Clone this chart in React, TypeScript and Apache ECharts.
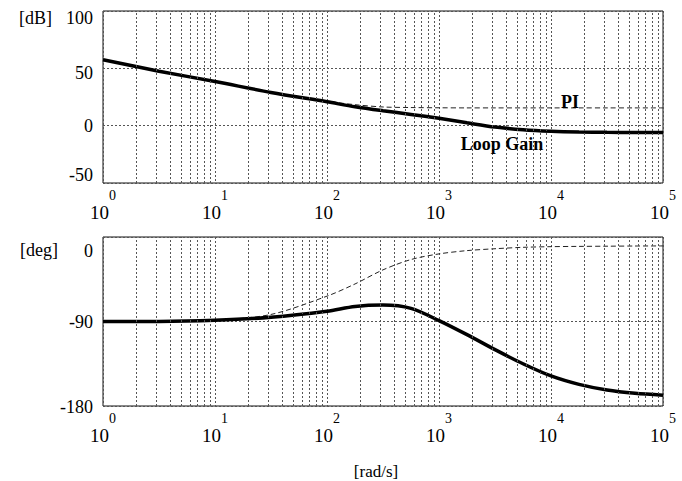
import React, { useEffect, useRef } from "react";
import * as echarts from "echarts";

// Frequency samples [rad/s]
const freq = [1, 3.16, 10, 31.6, 100, 178, 316, 562, 1000, 1778, 3162, 5623, 10000, 17783, 31623, 56234, 100000];
// Magnitude [dB]
const loopGainDb = [57.5, 47.5, 38.5, 29, 20.8, 16.5, 13, 9.8, 6.4, 2.5, -1.2, -3.5, -4.8, -5.5, -5.8, -5.9, -6];
const piDb = [57.5, 47.5, 38.5, 29, 21.3, 18.3, 16.3, 15.8, 15.6, 15.5, 15.5, 15.5, 15.5, 15.5, 15.5, 15.5, 15.5];
// Phase [deg]
const loopGainDeg = [-90, -90, -88.8, -85.5, -79, -74, -72.5, -76, -89, -104, -120, -135, -148, -157, -163, -166.5, -168.5];
const piDeg = [-90, -89.7, -88.5, -82.5, -63, -50, -35, -24, -18, -14.5, -12.5, -11, -10.3, -10, -9.8, -9.6, -9.5];

// Axis ranges / ticks
const freqMin = 1;
const freqMax = 100000;
const decades = [1, 10, 100, 1000, 10000];
const minorSteps = [2, 3, 4, 5, 6, 7, 8, 9];
const magRange = [-50, 100];
const magInterval = 50;
const phaseRange = [-180, 0];
const phaseInterval = 90;

// Annotation texts
const piLabel = { text: "PI", freq: 14800, db: 20.4 };
const loopLabel = { text: "Loop Gain", freq: 3650, db: -15.7 };

const FONT = "Liberation Serif";

const minorGrid: number[] = [];
decades.forEach((d) => minorSteps.forEach((m) => minorGrid.push(d * m)));

const zip = (xs: number[], ys: number[]) => xs.map((x, i) => [x, ys[i]]);

const gridLineStyle = { color: "#555", width: 1, type: [2, 2] as number[] };

const xLabel = {
  color: "#000",
  margin: 5,
  formatter: (v: number) => `{b|10}{s|${Math.round(Math.log10(v))}}`,
  rich: {
    b: { fontFamily: FONT, fontSize: 19, lineHeight: 34, verticalAlign: "bottom", color: "#000" },
    s: { fontFamily: FONT, fontSize: 14, lineHeight: 16, verticalAlign: "top", color: "#000" },
  },
};

const magShift: Record<string, number[]> = {
  "100": [14, 0, 0, 0],
  "50": [10, 0, 0, 0],
  "0": [0, 0, 0, 0],
  "-50": [0, 0, 16, 0],
};
const phaseShift: Record<string, number[]> = {
  "0": [28, 0, 0, 0],
  "-90": [0, 0, 0, 0],
  "-180": [2, 0, 0, 0],
};

const keyOf = (v: number) => "k" + String(v).replace("-", "m");

const yLabel = (shift: Record<string, number[]>) => {
  const rich: Record<string, any> = {};
  Object.keys(shift).forEach((k) => {
    rich[keyOf(Number(k))] = { fontFamily: FONT, fontSize: 18, color: "#000", padding: shift[k] };
  });
  return {
    color: "#000",
    margin: 10,
    fontFamily: FONT,
    fontSize: 18,
    formatter: (v: number) => `{${keyOf(v)}|${v}}`,
    rich,
  };
};

const gridSeries = (idx: number) => ({
  type: "line",
  xAxisIndex: idx,
  yAxisIndex: idx,
  data: [],
  silent: true,
  z: 1,
  markLine: {
    silent: true,
    symbol: "none",
    animation: false,
    label: { show: false },
    lineStyle: gridLineStyle,
    data: minorGrid.map((v) => ({ xAxis: v })),
  },
});

const textMark = (t: { text: string; freq: number; db: number }) => ({
  symbol: "circle",
  symbolSize: 1,
  itemStyle: { color: "rgba(0,0,0,0)" },
  animation: false,
  label: {
    show: true,
    position: "inside",
    formatter: t.text,
    fontFamily: FONT,
    fontWeight: "bold",
    fontSize: 18,
    color: "#000",
  },
  data: [{ coord: [t.freq, t.db] }],
});

export default function App() {
  const ref = useRef<HTMLDivElement>(null);
  useEffect(() => {
    if (!ref.current) return;
    const chart = echarts.init(ref.current, null, { renderer: "svg" });
    const xAxisBase = {
      type: "log",
      logBase: 10,
      min: freqMin,
      max: freqMax,
      axisLine: { show: false },
      axisTick: { show: false },
      splitLine: { show: true, lineStyle: gridLineStyle },
      axisLabel: xLabel,
    };
    chart.setOption({
      animation: false,
      backgroundColor: "#fff",
      grid: [
        { left: 103, top: 11, width: 560, height: 172, show: true, borderColor: "#111", borderWidth: 1, backgroundColor: "transparent" },
        { left: 103, top: 237, width: 560, height: 174, show: true, borderColor: "#111", borderWidth: 1, backgroundColor: "transparent" },
      ],
      xAxis: [
        { ...xAxisBase, gridIndex: 0 },
        {
          ...xAxisBase,
          gridIndex: 1,
          name: "[rad/s]",
          nameLocation: "middle",
          nameGap: 57,
          nameTextStyle: { fontFamily: FONT, fontSize: 17, color: "#000", padding: [0, 14, 0, 0] },
        },
      ],
      yAxis: [
        {
          type: "value",
          gridIndex: 0,
          min: magRange[0],
          max: magRange[1],
          interval: magInterval,
          axisLine: { show: false },
          axisTick: { show: false },
          splitLine: { show: true, lineStyle: gridLineStyle },
          axisLabel: yLabel(magShift),
          name: "[dB]",
          nameLocation: "end",
          nameGap: -7,
          nameTextStyle: { fontFamily: FONT, fontSize: 18, color: "#000", align: "right", verticalAlign: "middle", padding: [0, 51, 0, 0] },
        },
        {
          type: "value",
          gridIndex: 1,
          min: phaseRange[0],
          max: phaseRange[1],
          interval: phaseInterval,
          axisLine: { show: false },
          axisTick: { show: false },
          splitLine: { show: true, lineStyle: gridLineStyle },
          axisLabel: yLabel(phaseShift),
          name: "[deg]",
          nameLocation: "end",
          nameGap: -13,
          nameTextStyle: { fontFamily: FONT, fontSize: 18, color: "#000", align: "right", verticalAlign: "middle", padding: [0, 45, 0, 0] },
        },
      ],
      series: [
        gridSeries(0),
        gridSeries(1),
        {
          name: "PI",
          type: "line",
          xAxisIndex: 0,
          yAxisIndex: 0,
          data: zip(freq, piDb),
          symbol: "none",
          smooth: 0.3,
          z: 3,
          lineStyle: { color: "#222", width: 1, type: [5, 3] },
          markPoint: textMark(piLabel),
        },
        {
          name: "Loop Gain",
          type: "line",
          xAxisIndex: 0,
          yAxisIndex: 0,
          data: zip(freq, loopGainDb),
          symbol: "none",
          smooth: 0.3,
          z: 4,
          lineStyle: { color: "#000", width: 3.5 },
          markPoint: textMark(loopLabel),
        },
        {
          name: "PI phase",
          type: "line",
          xAxisIndex: 1,
          yAxisIndex: 1,
          data: zip(freq, piDeg),
          symbol: "none",
          smooth: 0.3,
          z: 3,
          lineStyle: { color: "#222", width: 1, type: [5, 3] },
        },
        {
          name: "Loop Gain phase",
          type: "line",
          xAxisIndex: 1,
          yAxisIndex: 1,
          data: zip(freq, loopGainDeg),
          symbol: "none",
          smooth: 0.3,
          z: 4,
          lineStyle: { color: "#000", width: 3.5 },
        },
      ],
    });
    return () => chart.dispose();
  }, []);
  return <div ref={ref} style={{ position: "fixed", left: 0, top: 0, width: 682, height: 481 }} />;
}
